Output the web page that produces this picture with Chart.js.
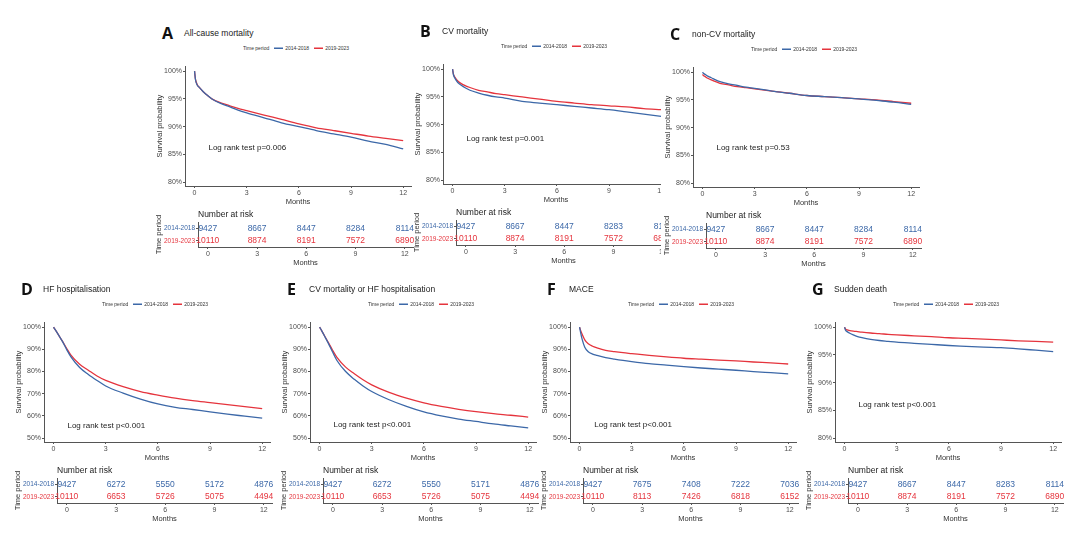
<!DOCTYPE html>
<html>
<head>
<meta charset="utf-8">
<script src="https://cdn.jsdelivr.net/npm/chart.js@4.4.0/dist/chart.umd.min.js"></script>
<style>
  body { margin: 0; background: #fff; width: 1080px; height: 540px; overflow: hidden; position: relative;
         font-family: "Liberation Sans", Arial, sans-serif; }
  .clip { position: absolute; left: 0; top: 0; height: 540px; overflow: hidden; }
  .letter { position: absolute; font-family: "Open Sans", "Liberation Sans", sans-serif; font-weight: 700;
            font-size: 16px; color: #111; line-height: 1; transform: translateY(-50%); }
  .title { position: absolute; font-size: 8.5px; color: #222; line-height: 1; transform: translateY(-50%); white-space: nowrap; }
  .legend { position: absolute; font-size: 10px; line-height: 10px; height: 10px; color: #333; white-space: nowrap;
            display: flex; align-items: center; transform: scale(0.5); transform-origin: left center; }
  .legend i { display: inline-block; width: 18px; height: 3px; margin: 0 4px 0 10px; }
  canvas { position: absolute; }
</style>
</head>
<body>
<script>
const BLUE = '#3C68A8';
const RED = '#E5343D';
const AXIS = '#555555';
const TICK = '#4d4d4d';

// time axis (months) and tick labels
const months = [0, 0.05, 0.15, 0.3, 0.5, 0.75, 1, 1.5, 2, 2.5, 3, 4, 5, 6, 7, 8, 9, 10, 11, 12];
const xTicks = [0, 3, 6, 9, 12];
const yTicksNarrow = [80, 85, 90, 95, 100];
const yTicksWide = [50, 60, 70, 80, 90, 100];
const periods = ['2014-2018', '2019-2023'];
const riskMonths = [0, 3, 6, 9, 12];

// survival probability (%) per period
const allCause2014 = [100, 98.5, 97.5, 97.0, 96.3, 95.6, 95.0, 94.2, 93.6, 93.0, 92.5, 91.6, 90.7, 90.0, 89.3, 88.7, 88.1, 87.4, 86.8, 86.0];
const allCause2019 = [100, 98.6, 97.6, 97.0, 96.3, 95.6, 95.0, 94.3, 93.8, 93.3, 92.9, 92.1, 91.3, 90.5, 89.8, 89.3, 88.8, 88.3, 87.9, 87.5];
const cv2014 = [100, 99.0, 98.3, 97.6, 97.1, 96.6, 96.2, 95.7, 95.3, 95.0, 94.8, 94.2, 93.9, 93.6, 93.3, 93.0, 92.7, 92.3, 91.9, 91.5];
const cv2019 = [100, 99.1, 98.5, 97.9, 97.4, 97.0, 96.7, 96.2, 95.9, 95.6, 95.4, 95.0, 94.6, 94.2, 93.9, 93.6, 93.4, 93.2, 92.9, 92.7];
const nonCv2014 = [100, 99.8, 99.6, 99.3, 99.0, 98.6, 98.3, 97.9, 97.6, 97.3, 97.1, 96.6, 96.2, 95.8, 95.6, 95.4, 95.2, 94.9, 94.6, 94.2];
const nonCv2019 = [99.6, 99.4, 99.2, 98.9, 98.6, 98.3, 98.0, 97.7, 97.4, 97.2, 97.0, 96.6, 96.2, 95.8, 95.6, 95.4, 95.2, 95.0, 94.7, 94.4];
const hf2014 = [100, 99.4, 98.2, 96.3, 93.7, 90.0, 86.6, 81.8, 78.7, 76.0, 73.5, 70.3, 67.6, 65.4, 63.9, 62.9, 61.8, 60.8, 59.9, 59.0];
const hf2019 = [100, 99.4, 98.2, 96.3, 93.8, 90.5, 87.4, 83.3, 80.6, 78.0, 76.0, 73.2, 71.0, 69.4, 68.0, 66.9, 66.0, 65.1, 64.2, 63.3];
const cvHf2014 = [100, 99.4, 98.0, 95.8, 92.8, 88.8, 85.0, 80.0, 76.5, 73.5, 71.0, 67.3, 64.3, 61.8, 60.0, 58.6, 57.5, 56.4, 55.5, 54.6];
const cvHf2019 = [100, 99.4, 98.0, 95.9, 93.2, 89.6, 86.4, 82.0, 79.0, 76.3, 74.0, 70.6, 68.0, 65.9, 64.3, 63.0, 61.9, 61.0, 60.3, 59.5];
const mace2014 = [100, 98.0, 94.5, 91.0, 88.9, 87.9, 87.3, 86.3, 85.6, 85.0, 84.5, 83.6, 82.9, 82.2, 81.6, 81.1, 80.6, 80.0, 79.5, 79.0];
const mace2019 = [100, 98.8, 96.8, 94.3, 92.5, 91.4, 90.7, 89.6, 89.0, 88.5, 88.1, 87.3, 86.6, 86.0, 85.6, 85.2, 84.8, 84.3, 83.9, 83.4];
const sudden2014 = [100, 99.5, 99.2, 98.9, 98.6, 98.3, 98.1, 97.8, 97.6, 97.45, 97.3, 97.1, 96.9, 96.7, 96.55, 96.4, 96.3, 96.1, 95.85, 95.6];
const sudden2019 = [100, 99.7, 99.5, 99.4, 99.3, 99.2, 99.1, 98.95, 98.85, 98.7, 98.6, 98.45, 98.3, 98.1, 98.0, 97.85, 97.7, 97.55, 97.45, 97.3];

// numbers at risk at 0, 3, 6, 9, 12 months
const allCauseRisk2014 = [9427, 8667, 8447, 8284, 8114];
const allCauseRisk2019 = [10110, 8874, 8191, 7572, 6890];
const cvRisk2014 = [9427, 8667, 8447, 8283, 8114];
const cvRisk2019 = [10110, 8874, 8191, 7572, 6890];
const nonCvRisk2014 = [9427, 8667, 8447, 8284, 8114];
const nonCvRisk2019 = [10110, 8874, 8191, 7572, 6890];
const hfRisk2014 = [9427, 6272, 5550, 5172, 4876];
const hfRisk2019 = [10110, 6653, 5726, 5075, 4494];
const cvHfRisk2014 = [9427, 6272, 5550, 5171, 4876];
const cvHfRisk2019 = [10110, 6653, 5726, 5075, 4494];
const maceRisk2014 = [9427, 7675, 7408, 7222, 7036];
const maceRisk2019 = [10110, 8113, 7426, 6818, 6152];
const suddenRisk2014 = [9427, 8667, 8447, 8283, 8114];
const suddenRisk2019 = [10110, 8874, 8191, 7572, 6890];

const panels = [
  { letter: 'A', title: 'All-cause mortality', early: allCause2014, late: allCause2019, riskEarly: allCauseRisk2014, riskLate: allCauseRisk2019,
    yTicks: yTicksNarrow, logRank: 'Log rank test p=0.006', logX: 0.8, logY: 86.1, x0: 185, y100: 68 },
  { letter: 'B', title: 'CV mortality', early: cv2014, late: cv2019, riskEarly: cvRisk2014, riskLate: cvRisk2019,
    yTicks: yTicksNarrow, logRank: 'Log rank test p=0.001', logX: 0.8, logY: 87.5, x0: 443, y100: 66, clip: 661 },
  { letter: 'C', title: 'non-CV mortality', early: nonCv2014, late: nonCv2019, riskEarly: nonCvRisk2014, riskLate: nonCvRisk2019,
    yTicks: yTicksNarrow, logRank: 'Log rank test p=0.53', logX: 0.8, logY: 86.3, x0: 693, y100: 69 },
  { letter: 'D', title: 'HF hospitalisation', early: hf2014, late: hf2019, riskEarly: hfRisk2014, riskLate: hfRisk2019,
    yTicks: yTicksWide, logRank: 'Log rank test p<0.001', logX: 0.8, logY: 55.7, x0: 44, y100: 324 },
  { letter: 'E', title: 'CV mortality or HF hospitalisation', early: cvHf2014, late: cvHf2019, riskEarly: cvHfRisk2014, riskLate: cvHfRisk2019,
    yTicks: yTicksWide, logRank: 'Log rank test p<0.001', logX: 0.8, logY: 56.1, x0: 310, y100: 324 },
  { letter: 'F', title: 'MACE', early: mace2014, late: mace2019, riskEarly: maceRisk2014, riskLate: maceRisk2019,
    yTicks: yTicksWide, logRank: 'Log rank test p<0.001', logX: 0.85, logY: 56.0, x0: 570, y100: 324 },
  { letter: 'G', title: 'Sudden death', early: sudden2014, late: sudden2019, riskEarly: suddenRisk2014, riskLate: suddenRisk2019,
    yTicks: yTicksNarrow, logRank: 'Log rank test p<0.001', logX: 0.8, logY: 86.0, x0: 835, y100: 324 }
];

Chart.defaults.font.family = '"Liberation Sans", Arial, sans-serif';

const logRankPlugin = {
  id: 'logRank',
  afterDatasetsDraw(chart, args, opts) {
    const { ctx, scales } = chart;
    ctx.save();
    ctx.font = '8px "Liberation Sans", Arial, sans-serif';
    ctx.fillStyle = '#222';
    ctx.textBaseline = 'middle';
    ctx.fillText(opts.text, scales.x.getPixelForValue(opts.x), scales.y.getPixelForValue(opts.y));
    ctx.restore();
  }
};

const riskPlugin = {
  id: 'riskNumbers',
  afterDatasetsDraw(chart) {
    const ctx = chart.ctx;
    ctx.save();
    ctx.textAlign = 'center';
    ctx.textBaseline = 'middle';
    ctx.font = '8.5px "Liberation Sans", Arial, sans-serif';
    chart.data.datasets.forEach((ds, i) => {
      ctx.fillStyle = ds.textColor;
      chart.getDatasetMeta(i).data.forEach((pt, j) => ctx.fillText(ds.counts[j], pt.x, pt.y));
    });
    ctx.font = '8.5px "Liberation Sans", Arial, sans-serif';
    ctx.fillStyle = '#222';
    ctx.textAlign = 'left';
    ctx.fillText('Number at risk', chart.chartArea.left, chart.chartArea.top - 7);
    ctx.restore();
  }
};

function addDiv(parent, cls, html, left, top) {
  const d = document.createElement('div');
  d.className = cls;
  d.innerHTML = html;
  d.style.left = left + 'px';
  d.style.top = top + 'px';
  parent.appendChild(d);
  return d;
}

function addCanvas(parent, left, top, w, h) {
  const c = document.createElement('canvas');
  c.width = w; c.height = h;
  c.style.left = left + 'px';
  c.style.top = top + 'px';
  c.style.width = w + 'px';
  c.style.height = h + 'px';
  parent.appendChild(c);
  return c;
}

function axisGrid(len) {
  return { display: true, drawOnChartArea: false, tickLength: len, color: AXIS, lineWidth: 1 };
}

panels.forEach(p => {
  const box = document.createElement('div');
  box.className = 'clip';
  box.style.width = (p.clip || 1080) + 'px';
  document.body.appendChild(box);

  addDiv(box, 'letter', p.letter, p.x0 - 23, p.y100 - 35);
  addDiv(box, 'title', p.title, p.x0 - 1, p.y100 - 35);
  addDiv(box, 'legend', 'Time period<i style="background:' + BLUE + '"></i>' + periods[0] +
    '<i style="background:' + RED + '"></i>' + periods[1], p.x0 + 58, p.y100 - 25);

  const lo = p.yTicks[0], hi = p.yTicks[p.yTicks.length - 1], span = hi - lo;

  // survival curves
  const km = addCanvas(box, p.x0 - 30, p.y100 - 7, 260, 145);
  new Chart(km, {
    type: 'line',
    data: {
      datasets: [
        { label: periods[0], data: months.map((m, i) => ({ x: m, y: p.early[i] })), borderColor: BLUE },
        { label: periods[1], data: months.map((m, i) => ({ x: m, y: p.late[i] })), borderColor: RED }
      ].map(d => Object.assign(d, { borderWidth: 1.3, pointRadius: 0, fill: false, cubicInterpolationMode: 'monotone' }))
    },
    options: {
      responsive: false, animation: false, events: [],
      layout: { padding: { top: 2, right: 4, left: 0, bottom: 0 } },
      plugins: {
        legend: { display: false }, tooltip: { enabled: false },
        logRank: { text: p.logRank, x: p.logX, y: p.logY }
      },
      scales: {
        x: {
          type: 'linear', min: -0.55, max: 12.45,
          afterBuildTicks: s => { s.ticks = xTicks.map(v => ({ value: v })); },
          afterFit: s => { s.height = 20; },
          grid: axisGrid(2), border: { display: true, color: AXIS },
          ticks: { font: { size: 7 }, color: TICK, padding: 1, maxRotation: 0 },
          title: { display: true, text: 'Months', font: { size: 7.5 }, color: '#333', padding: 0 }
        },
        y: {
          type: 'linear', min: lo - 0.035 * span, max: hi + 0.045 * span,
          afterBuildTicks: s => { s.ticks = p.yTicks.map(v => ({ value: v })); },
          afterFit: s => { s.width = 30; },
          grid: axisGrid(2), border: { display: true, color: AXIS },
          ticks: { font: { size: 7 }, color: TICK, padding: 1, callback: v => v + '%' },
          title: { display: true, text: 'Survival probability', font: { size: 7.5 }, color: '#333', padding: 0 }
        }
      }
    },
    plugins: [logRankPlugin]
  });

  // number at risk table
  const tb = p.y100 + 179;
  const risk = addCanvas(box, p.x0 - 31, tb - 39, 263, 59);
  new Chart(risk, {
    type: 'scatter',
    data: {
      datasets: [
        { label: periods[0], data: riskMonths.map(m => ({ x: m, y: periods[0] })), counts: p.riskEarly, textColor: BLUE },
        { label: periods[1], data: riskMonths.map(m => ({ x: m, y: periods[1] })), counts: p.riskLate, textColor: RED }
      ].map(d => Object.assign(d, { pointRadius: 0, showLine: false }))
    },
    options: {
      responsive: false, animation: false, events: [],
      layout: { padding: { top: 14, right: 4, left: 0, bottom: 0 } },
      plugins: { legend: { display: false }, tooltip: { enabled: false } },
      scales: {
        x: {
          type: 'linear', min: -0.6, max: 12.5,
          afterBuildTicks: s => { s.ticks = xTicks.map(v => ({ value: v })); },
          afterFit: s => { s.height = 20; },
          grid: axisGrid(2), border: { display: true, color: AXIS },
          ticks: { font: { size: 7 }, color: TICK, padding: 1, maxRotation: 0 },
          title: { display: true, text: 'Months', font: { size: 7.5 }, color: '#333', padding: 0 }
        },
        y: {
          type: 'category', labels: periods, offset: true,
          afterFit: s => { s.width = 44; },
          grid: axisGrid(2), border: { display: true, color: AXIS },
          ticks: { font: { size: 6.5 }, padding: 1, color: c => (c.index === 0 ? BLUE : RED) },
          title: { display: true, text: 'Time period', font: { size: 7.5 }, color: '#333', padding: 0 }
        }
      }
    },
    plugins: [riskPlugin]
  });
});
</script>
</body>
</html>
